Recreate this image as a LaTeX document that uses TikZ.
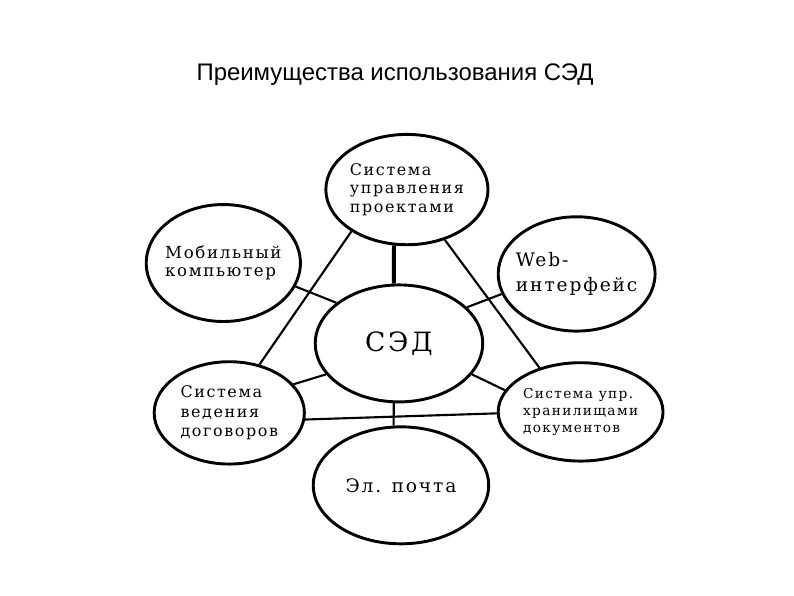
\documentclass[tikz,border=0pt]{standalone}
\usepackage{fontspec}
\setmainfont{DejaVu Serif}
\newfontfamily\spacedfont[LetterSpace=10]{DejaVu Serif}
\newfontfamily\headfont{Liberation Sans}
\usetikzlibrary{shapes.geometric}
\tikzset{
  bubble/.style={
    draw,
    ellipse,
    inner sep=-8pt,
    line width=2.2pt,
    align=left,
  },
  link/.style={line width=1.6pt},
  hub/.style={line width=3pt},
}

\begin{document}
\begin{tikzpicture}[x=0.02625cm, y=-0.02625cm]
  \useasboundingbox (0,0) rectangle (800,600);
  \node[font=\headfont\fontsize{18}{21}\selectfont] (title) at (398,75) {Преимущества использования СЭД};

  \node[bubble, minimum width=122pt, minimum height=83pt, font=\spacedfont\fontsize{12}{14}\selectfont] (proj) at (410,191) {Система\\управления\\проектами};
  \node[bubble, minimum width=116pt, minimum height=88pt, font=\spacedfont\fontsize{12.5}{13.5}\selectfont] (mob) at (225,265) {Мобильный\\компьютер};
  \node[bubble, minimum width=118pt, minimum height=86pt, font=\spacedfont\fontsize{14}{18.5}\selectfont] (web) at (581,276) {Web-\\интерфейс};
  \node[bubble, minimum width=126pt, minimum height=88pt, font=\spacedfont\fontsize{20}{24}\selectfont] (sed) at (402,346) {СЭД};
  \node[bubble, minimum width=113pt, minimum height=77pt, font=\spacedfont\fontsize{12}{14.5}\selectfont] (dog) at (231,416) {Система\\ведения\\договоров};
  \node[bubble, minimum width=124pt, minimum height=74pt, font=\spacedfont\fontsize{10.3}{13}\selectfont] (hran) at (585,415) {Система упр.\\хранилищами\\документов};
  \node[bubble, minimum width=132pt, minimum height=88pt, font=\spacedfont\fontsize{14}{16}\selectfont] (mail) at (404,489) {Эл. почта};

  \draw[hub] (proj.257) -- (sed.95);
  \draw[link] (proj.217) -- (dog.58);
  \draw[link] (proj.307) -- (hran.133);
  \draw[link] (mob.342) -- (sed.147);
  \draw[link] (web.195) -- (sed.28);
  \draw[link] (sed.203) -- (dog.24);
  \draw[link] (sed.337) -- (hran.164);
  \draw[link] (sed.265) -- (mail.97);
  \draw[link] (dog.355) -- (hran.181);
\end{tikzpicture}
\end{document}
